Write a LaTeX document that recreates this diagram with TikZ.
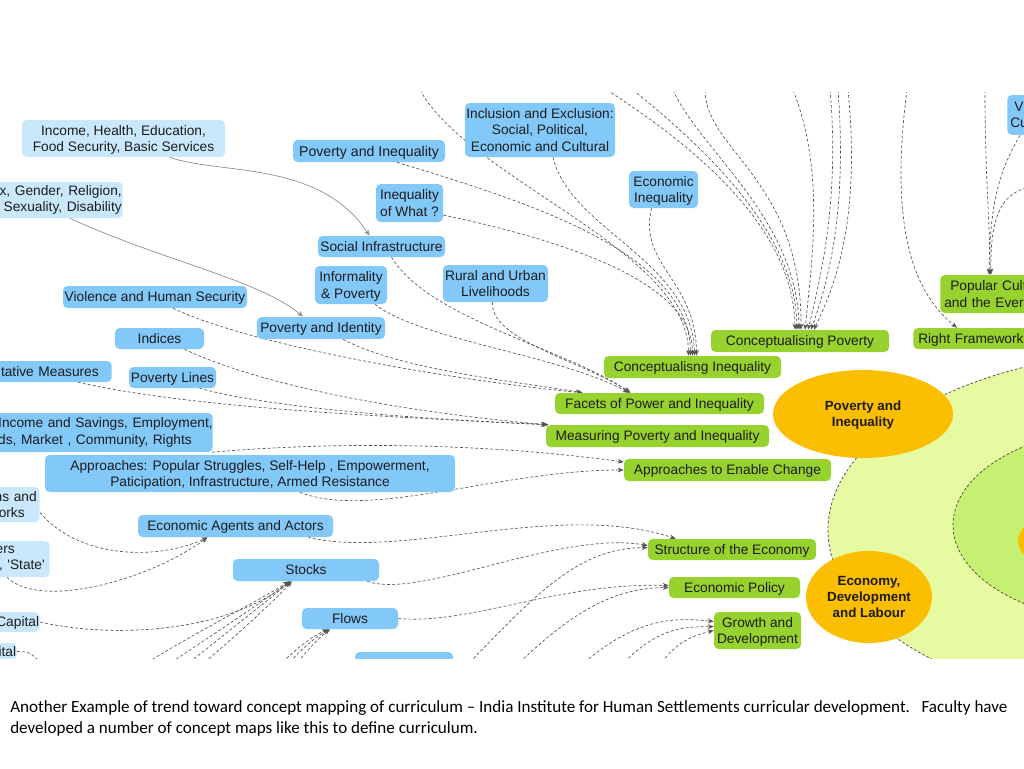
\documentclass[tikz,border=0pt]{standalone}
\usepackage{fontspec}
\setmainfont{Liberation Sans}
\newfontfamily\capfont{Carlito}
\usetikzlibrary{arrows.meta,calc,shapes.geometric}
\definecolor{lb}{HTML}{CAE8FC}
\definecolor{mb}{HTML}{82C8F9}
\definecolor{gr}{HTML}{98D22E}
\definecolor{orng}{HTML}{FBBE00}
\definecolor{lgreen}{HTML}{E6FAA2}
\definecolor{igreen}{HTML}{C6F072}
\definecolor{txt}{HTML}{1C1C1C}
\definecolor{lgray}{HTML}{555555}
\definecolor{sgray}{HTML}{8C8C8C}
\definecolor{bgray}{HTML}{404040}
\pgfdeclarelayer{bg}
\pgfsetlayers{bg,main}
\tikzset{
  base/.style={rounded corners=3.5pt, inner xsep=1pt, inner ysep=1pt, text depth=0pt,
    font=\fontsize{10.3}{12.2}\selectfont, align=center, text=txt},
  lbn/.style={base, fill=lb},
  mbn/.style={base, fill=mb},
  grn/.style={base, fill=gr},
  tw/.style={text depth={}},
  sz/.style 2 args={minimum width=#1*0.75pt, minimum height=#2*0.75pt},
  hgt/.style={minimum height=#1*0.75pt},
  ell/.style={ellipse, fill=orng, inner sep=0pt, align=center, text=txt, text depth=0pt,
    font=\bfseries\fontsize{10}{12.2}\selectfont},
  con/.style={draw=lgray, line width=0.5pt, dash pattern=on 2.2pt off 1.6pt,
    -{Stealth[length=4.5pt,width=3.6pt]}},
  conplain/.style={draw=lgray, line width=0.5pt, dash pattern=on 2.2pt off 1.6pt},
  sol/.style={draw=sgray, line width=0.5pt, -{Stealth[length=4.5pt,width=3.6pt]}},
  bord/.style={draw=bgray, line width=0.5pt, dash pattern=on 2pt off 1.5pt}
}
\begin{document}
\begin{tikzpicture}[x=0.75pt,y=-0.75pt]
\useasboundingbox (0,0) rectangle (1024,768);

\begin{scope}
\clip (0,92) rectangle (1024,658);
% nodes: light blue
\node[lbn, sz={203}{37}] (n1) at (123.5,138.5) {Income, Health, Education,\\Food Security, Basic Services};
\node[lbn, tw, hgt=36, anchor=east, inner xsep=0.75pt, text width=135pt, align=right] (n2) at (123,200) {x, Gender, Religion,\\, Sexuality, Disability};
\node[lbn, tw, hgt=35, anchor=east, inner xsep=2.25pt, text width=60pt, align=right] (nns) at (40,504.5) {ns and\\orks\hspace*{9pt}\mbox{}};
\node[lbn, tw, hgt=36, anchor=east, inner xsep=3.75pt, text width=60pt, align=right] (ners) at (50,559) {ers\hspace*{22.5pt}\mbox{}\\, \textquotesingle State\textquotesingle};
\node[lbn, hgt=20, anchor=east, inner xsep=0.5pt, text width=60pt, align=right] (ncap) at (40,622) {Capital};
\node[lbn, hgt=17, anchor=east, inner xsep=0.5pt, text width=40pt, align=right] (nital) at (17,651.5) {ital};
% medium blue
\node[mbn, sz={152}{22}, font=\fontsize{10.6}{12.2}\selectfont] (b1) at (369,151) {Poverty and Inequality};
\node[mbn, sz={150}{54}] (b2) at (540,130) {Inclusion and Exclusion:\\Social, Political,\\Economic and Cultural};
\node[mbn, sz={69}{37}] (b3) at (663.5,189.5) {Economic\\Inequality};
\node[mbn, sz={67}{38}] (b4) at (409.5,203) {Inequality\\of What ?};
\node[mbn, sz={127}{21}] (b5) at (381.5,246.5) {Social Infrastructure};
\node[mbn, sz={72}{38}] (b6) at (351,285) {Informality\\\& Poverty};
\node[mbn, sz={105}{37}] (b7) at (495.5,283.5) {Rural and Urban\\Livelihoods};
\node[mbn, sz={184}{22}] (b8) at (155,297) {Violence and Human Security};
\node[mbn, sz={128}{22}] (b9) at (321,328) {Poverty and Identity};
\node[mbn, sz={89}{21}] (b10) at (159.5,338.5) {Indices};
\node[mbn, hgt=21, anchor=east, inner xsep=9.75pt, text width=82.5pt, align=right] (b11) at (112,371.5) {itative Measures};
\node[mbn, sz={87}{21}] (b12) at (172.5,377.5) {Poverty Lines};
\node[mbn, tw, hgt=39, anchor=east, inner xsep=0pt, text width=240pt, align=right] (b13) at (213,432.5) {Income and Savings, Employment,\\ds, Market , Community, Rights\hspace*{15.75pt}\mbox{}};
\node[mbn, sz={410}{37}] (b14) at (250,473.5) {Approaches: Popular Struggles, Self-Help , Empowerment,\\Paticipation, Infrastructure, Armed Resistance};
\node[mbn, sz={195}{22}] (b15) at (235.5,526) {Economic Agents and Actors};
\node[mbn, sz={146}{22}] (b16) at (306,570) {Stocks};
\node[mbn, sz={96}{21}] (b17) at (350,618.5) {Flows};
\node[mbn, sz={98}{26}] (b18) at (404,665) {};
\node[mbn, tw, hgt=40, anchor=west, inner xsep=2.25pt, text width=60pt, align=left] (b19) at (1007,115) {\hspace*{3pt}V\\Cu};
% green
\node[grn, sz={178}{22}] (g1) at (800,341) {Conceptualising Poverty};
\node[grn, sz={177}{22}] (g2) at (692.5,367) {Conceptualisng Inequality};
\node[grn, sz={209}{21}] (g3) at (659.5,403.5) {Facets of Power and Inequality};
\node[grn, sz={223}{22}] (g4) at (657.5,436) {Measuring Poverty and Inequality};
\node[grn, sz={207}{22}] (g5) at (727.5,470) {Approaches to Enable Change};
\node[grn, sz={168}{21}] (g6) at (732,549.5) {Structure of the Economy};
\node[grn, sz={131}{21}] (g7) at (734.5,587.5) {Economic Policy};
\node[grn, sz={87}{37}] (g8) at (757.5,630.5) {Growth and\\Development};
\node[grn, tw, hgt=38, anchor=west, inner xsep=3pt, text width=100pt, align=left] (g9) at (940,294) {\hspace*{4.5pt}Popular Cult\\and the Ever};
\node[grn, hgt=21, anchor=west, inner xsep=3.75pt, text width=110pt, align=left] (g10) at (913,338.5) {Right Frameworks};
% orange ellipses
\node[ell, minimum width=135pt, minimum height=66pt] (e1) at (863,414) {Poverty and\\Inequality};
\node[ell, minimum width=94.5pt, minimum height=69pt] (e2) at (869,597) {Economy,\\Development\\and Labour};

% free ends
\coordinate (t1) at (420,90);
\coordinate (t2) at (607,90);
\coordinate (t3) at (633,90);
\coordinate (t4) at (673,90);
\coordinate (t5) at (705,90);
\coordinate (t6) at (793,90);
\coordinate (t7) at (830,90);
\coordinate (t8) at (838,90);
\coordinate (t9) at (848,90);
\coordinate (t10) at (985,90);
\coordinate (t11) at (1026,188);
\coordinate (t12) at (907,90);
\coordinate (sg3) at (470,662);
\coordinate (sj2) at (520,662);
\coordinate (sk1) at (585,662);
\coordinate (sk2) at (625,662);
\coordinate (sk3) at (662,662);
\coordinate (sh2) at (148,662);
\coordinate (sh3) at (172,662);
\coordinate (sh4) at (190,662);
\coordinate (sh5) at (205,662);
\coordinate (si1) at (283,662);
\coordinate (si2) at (290,662);
\coordinate (si3) at (298,662);
\coordinate (sit) at (42,664);
\end{scope}

\begin{pgfonlayer}{bg}
\fill[white] (0,0) rectangle (1024,768);
\begin{scope}
\clip (0,92) rectangle (1024,658);
\fill[lgreen] (1170,530) ellipse [x radius=256.5pt, y radius=135pt];
\draw[bord] (1170,530) ellipse [x radius=256.5pt, y radius=135pt];
\fill[igreen] (1130,525) ellipse [x radius=132.75pt, y radius=73.5pt];
\draw[bord] (1130,525) ellipse [x radius=132.75pt, y radius=73.5pt];
\fill[orng] (1070,541) ellipse [x radius=39pt, y radius=22.5pt];

% solid connectors
\draw[sol] ($(n1.south)+(46,0)$) .. controls (220,175) and (320,160) .. ($(b5.north)+(-12,0)$);
\draw[sol] ($(n2.south east)+(-53,0)$) .. controls (160,260) and (260,280) .. ($(b9.north)+(-18,0)$);

% into Conceptualisng Inequality
\draw[con] (t1) .. controls (470,180) and (688,250) .. ($(g2.north)+(-4,0)$);
\draw[con] ($(b1.south)+(28,0)$) .. controls (520,200) and (690,250) .. ($(g2.north)+(-2,0)$);
\draw[con] ($(b4.east)+(0,12)$) .. controls (560,240) and (692,280) .. (g2.north);
\draw[con] ($(b2.south)+(13,0)$) .. controls (570,230) and (692,260) .. ($(g2.north)+(2,0)$);
\draw[con] ($(b3.south)+(-12,0)$) .. controls (638,265) and (696,280) .. ($(g2.north)+(4,0)$);

% into Conceptualising Poverty
\draw[con] (t2) .. controls (700,150) and (794,230) .. ($(g1.north)+(-5,0)$);
\draw[con] (t3) .. controls (720,160) and (796,240) .. ($(g1.north)+(-3,0)$);
\draw[con] (t4) .. controls (700,150) and (798,220) .. ($(g1.north)+(-1,0)$);
\draw[con] (t5) .. controls (705,150) and (802,180) .. ($(g1.north)+(1,0)$);
\draw[con] (t6) .. controls (825,170) and (812,260) .. ($(g1.north)+(5,0)$);
\draw[con] (t7) .. controls (840,200) and (820,280) .. ($(g1.north)+(8,0)$);
\draw[con] (t8) .. controls (848,220) and (825,290) .. ($(g1.north)+(11,0)$);
\draw[con] (t9) .. controls (862,230) and (830,295) .. ($(g1.north)+(14,0)$);

% into Facets of Power and Inequality
\draw[con] ($(b8.south)+(18,0)$) .. controls (250,345) and (450,380) .. ($(g3.north west)+(27,0)$);
\draw[con] ($(b9.south)+(22,0)$) .. controls (400,370) and (520,382) .. ($(g3.north west)+(28,0)$);
\draw[con] ($(b5.south)+(10,0)$) .. controls (430,320) and (570,350) .. ($(g3.north west)+(75,0)$);
\draw[con] ($(b6.south)+(24,0)$) .. controls (420,340) and (560,355) .. ($(g3.north west)+(74,0)$);
\draw[con] ($(b7.south)+(-3,0)$) .. controls (490,340) and (580,360) .. ($(g3.north west)+(76,0)$);

% into Measuring Poverty and Inequality
\draw[con] ($(b10.south)+(25,0)$) .. controls (260,385) and (400,412) .. ($(g4.north west)+(2,0)$);
\draw[con] ($(b11.south east)+(-34,0)$) .. controls (200,410) and (420,418) .. ($(g4.north west)+(1,0)$);
\draw[con] ($(b12.south)+(27,0)$) .. controls (280,410) and (440,420) .. ($(g4.north west)+(3,0)$);

% into Approaches to Enable Change
\draw[con] ($(b13.south east)+(-1,0)$) .. controls (350,440) and (500,445) .. ($(g5.west)+(0,-8)$);
\draw[con] ($(b14.south)+(50,0)$) .. controls (370,520) and (500,470) .. (g5.west);

% into Economic Agents and Actors
\draw[con] ($(nns.east)+(0,8)$) .. controls (80,560) and (160,560) .. ($(b15.south)+(-28,0)$);
\draw[con] ($(ners.south east)+(-43,0)$) .. controls (40,610) and (150,580) .. ($(b15.south)+(-28,0)$);

% into Structure of the Economy
\draw[con] ($(b15.south east)+(-25,0)$) .. controls (400,560) and (560,500) .. ($(g6.north west)+(28,0)$);
\draw[con] ($(b16.south east)+(-12,0)$) .. controls (420,600) and (560,530) .. ($(g6.west)+(0,-4)$);
\draw[con] (sg3) .. controls (540,590) and (580,548) .. ($(g6.west)+(0,-2)$);

% into Economic Policy
\draw[con] (b17.east) .. controls (470,625) and (560,582) .. ($(g7.west)+(0,-2)$);
\draw[con] (sj2) .. controls (580,605) and (620,588) .. (g7.west);

% into Growth and Development
\draw[con] (sk1) .. controls (640,615) and (680,618) .. ($(g8.west)+(0,-9)$);
\draw[con] (sk2) .. controls (660,625) and (690,627) .. ($(g8.west)+(0,-4)$);
\draw[con] (sk3) .. controls (680,638) and (700,634) .. (g8.west);

% into Stocks
\draw[con] (ncap.east) .. controls (120,640) and (230,630) .. ($(b16.south)+(-16,0)$);
\draw[con] (sh2) .. controls (200,630) and (260,600) .. ($(b16.south)+(-17,0)$);
\draw[con] (sh3) .. controls (220,630) and (265,600) .. ($(b16.south)+(-16,0)$);
\draw[con] (sh4) .. controls (230,630) and (268,600) .. ($(b16.south)+(-15,0)$);
\draw[con] (sh5) .. controls (240,632) and (270,605) .. ($(b16.south)+(-14,0)$);

% into Flows
\draw[con] (si1) .. controls (300,645) and (315,635) .. ($(b17.south)+(-22,0)$);
\draw[con] (si2) .. controls (305,645) and (318,636) .. ($(b17.south)+(-21,0)$);
\draw[con] (si3) .. controls (310,647) and (320,637) .. ($(b17.south)+(-20,0)$);
\draw[conplain] (nital.east) .. controls (30,652) .. (sit);

% top right
\draw[con] (t10) .. controls (985,180) and (990,220) .. ($(g9.north west)+(50,0)$);
\draw[con] ($(b19.south west)+(13,0)$) .. controls (1000,170) and (990,200) .. ($(g9.north west)+(49,0)$);
\draw[con] (t11) .. controls (1000,195) and (990,220) .. ($(g9.north west)+(51,0)$);
\draw[con] (t12) .. controls (890,220) and (910,290) .. ($(g10.north west)+(44,0)$);
\end{scope}
\end{pgfonlayer}

\node[anchor=base west, inner sep=0pt, align=left, text=black,
  font=\capfont\fontsize{12.8}{15.75}\selectfont] (cap) at (10,733)
  {Another Example of trend toward concept mapping of curriculum – India Institute for Human Settlements curricular development.\ \ \ Faculty have\\developed a number of concept maps like this to define curriculum.};
\end{tikzpicture}
\end{document}
